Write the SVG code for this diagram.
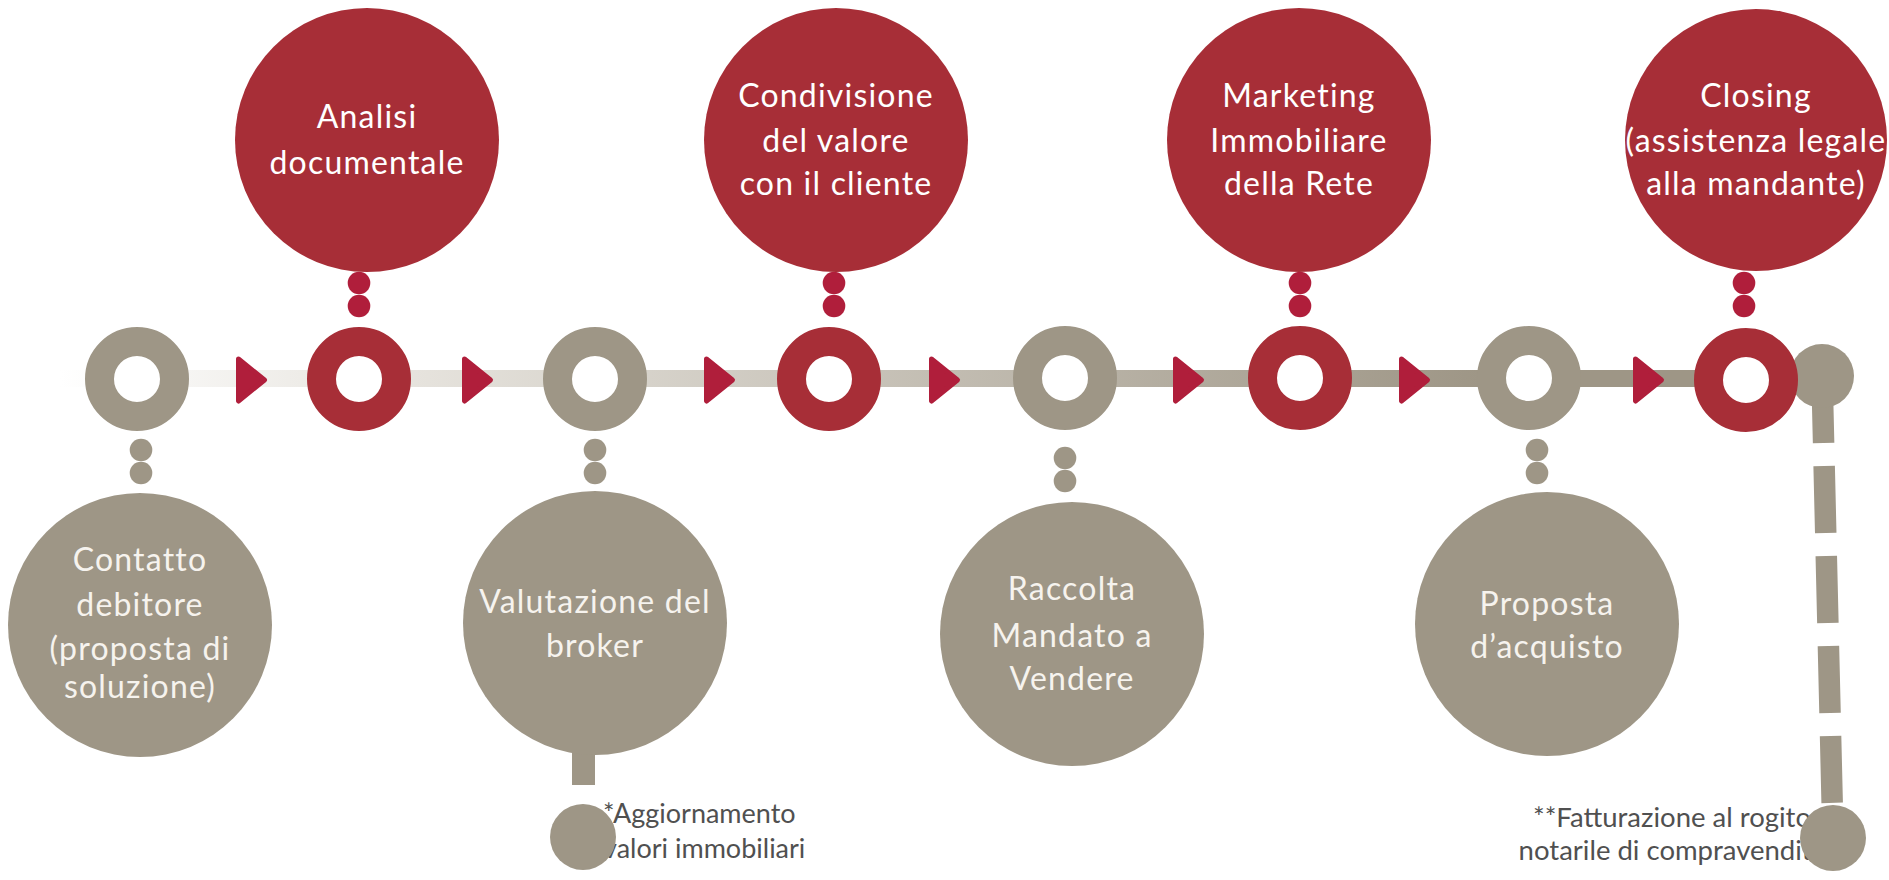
<svg xmlns="http://www.w3.org/2000/svg" width="1889" height="880" viewBox="0 0 1889 880">
  <defs>
    <linearGradient id="lineGrad" gradientUnits="userSpaceOnUse" x1="60" y1="0" x2="1480" y2="0">
      <stop offset="0" stop-color="#ffffff"/>
      <stop offset="0.25" stop-color="#e6e3dd"/>
      <stop offset="1" stop-color="#9e9686"/>
    </linearGradient>
    <style>
      .gray { fill: #9e9686; }
      .red { fill: #a72e37; }
      .dotr { fill: #b01e3b; }
      .arrow { fill: #b01e3b; stroke: #b01e3b; stroke-width: 5; stroke-linejoin: round; }
      .ringg { fill: #ffffff; stroke: #9e9686; stroke-width: 29; }
      .ringr { fill: #ffffff; stroke: #a72e37; stroke-width: 29; }
      .lbl { font-family: Lato, "Liberation Sans", sans-serif; font-size: 32px; letter-spacing: 1.2px; text-anchor: middle; }
      .lw { fill: #ffffff; }
      .lg { fill: #f6f3ee; }
      .note { font-family: Lato, "Liberation Sans", sans-serif; fill: #505050; }
    </style>
  </defs>

  <g id="connectors">
    <rect x="60" y="370" width="1745" height="17" fill="url(#lineGrad)"/>
    <polygon class="arrow" points="238.5,359 264.5,380 238.5,401"/>
    <polygon class="arrow" points="464.5,359 490.5,380 464.5,401"/>
    <polygon class="arrow" points="706.5,359 732.5,380 706.5,401"/>
    <polygon class="arrow" points="931.5,359 957.5,380 931.5,401"/>
    <polygon class="arrow" points="1175.5,359 1201.5,380 1175.5,401"/>
    <polygon class="arrow" points="1401.5,359 1427.5,380 1401.5,401"/>
    <polygon class="arrow" points="1635.5,359 1661.5,380 1635.5,401"/>
    <!-- dot chains -->
    <circle class="gray" cx="141" cy="450" r="11.3"/>
    <circle class="gray" cx="141" cy="473" r="11.3"/>
    <circle class="dotr" cx="359" cy="283" r="11.3"/>
    <circle class="dotr" cx="359" cy="306" r="11.3"/>
    <circle class="gray" cx="595" cy="450" r="11.3"/>
    <circle class="gray" cx="595" cy="473" r="11.3"/>
    <circle class="dotr" cx="834" cy="283" r="11.3"/>
    <circle class="dotr" cx="834" cy="306" r="11.3"/>
    <circle class="gray" cx="1065" cy="458" r="11.3"/>
    <circle class="gray" cx="1065" cy="481" r="11.3"/>
    <circle class="dotr" cx="1300" cy="283" r="11.3"/>
    <circle class="dotr" cx="1300" cy="306" r="11.3"/>
    <circle class="gray" cx="1537" cy="450" r="11.3"/>
    <circle class="gray" cx="1537" cy="473" r="11.3"/>
    <circle class="dotr" cx="1744" cy="283" r="11.3"/>
    <circle class="dotr" cx="1744" cy="306" r="11.3"/>
    <!-- broker stem -->
    <rect class="gray" x="572" y="745" width="23" height="40"/>
    <!-- dashed line -->
    <line x1="1822" y1="376" x2="1833" y2="838" stroke="#9e9686" stroke-width="21.5" stroke-dasharray="67 23"/>
  </g>

  <g id="notes">
    <text class="note" font-size="27" x="603" y="823">*Aggiornamento</text>
    <text class="note" font-size="27" x="603" y="858">valori immobiliari</text>
    <text class="note" font-size="27.5" x="1672" y="827" text-anchor="middle">**Fatturazione al rogito</text>
    <text class="note" font-size="27.5" x="1672" y="860" text-anchor="middle">notarile di compravendita</text>
  </g>

  <g id="end-top">
    <circle class="gray" cx="1822" cy="376" r="32"/>
  </g>
  <g id="note-dot-1">
    <circle class="gray" cx="583" cy="837" r="33"/>
  </g>
  <g id="end-bottom">
    <circle class="gray" cx="1833" cy="838" r="33"/>
  </g>

  <g id="step1-contatto">
    <circle class="ringg" cx="137" cy="379" r="37.5"/>
    <circle class="gray" cx="140" cy="625" r="132"/>
    <text class="lbl lg" x="140" y="571">Contatto</text>
    <text class="lbl lg" x="140" y="616">debitore</text>
    <text class="lbl lg" x="140" y="660" font-size="26" letter-spacing="0">(proposta di</text>
    <text class="lbl lg" x="140" y="698" font-size="26" letter-spacing="0">soluzione)</text>
  </g>

  <g id="step2-analisi">
    <circle class="ringr" cx="359" cy="379" r="37.5"/>
    <circle class="red" cx="367" cy="140" r="132"/>
    <text class="lbl lw" x="367" y="128">Analisi</text>
    <text class="lbl lw" x="367" y="174">documentale</text>
  </g>

  <g id="step3-valutazione">
    <circle class="ringg" cx="595" cy="379" r="37.5"/>
    <circle class="gray" cx="595" cy="623" r="132"/>
    <text class="lbl lg" x="595" y="613">Valutazione del</text>
    <text class="lbl lg" x="595" y="657">broker</text>
  </g>

  <g id="step4-condivisione">
    <circle class="ringr" cx="829" cy="379" r="37.5"/>
    <circle class="red" cx="836" cy="140" r="132"/>
    <text class="lbl lw" x="836" y="107">Condivisione</text>
    <text class="lbl lw" x="836" y="152">del valore</text>
    <text class="lbl lw" x="836" y="195">con il cliente</text>
  </g>

  <g id="step5-raccolta">
    <circle class="ringg" cx="1065" cy="378" r="37.5"/>
    <circle class="gray" cx="1072" cy="634" r="132"/>
    <text class="lbl lg" x="1072" y="600">Raccolta</text>
    <text class="lbl lg" x="1072" y="647">Mandato a</text>
    <text class="lbl lg" x="1072" y="690">Vendere</text>
  </g>

  <g id="step6-marketing">
    <circle class="ringr" cx="1300" cy="378" r="37.5"/>
    <circle class="red" cx="1299" cy="140" r="132"/>
    <text class="lbl lw" x="1299" y="107">Marketing</text>
    <text class="lbl lw" x="1299" y="152">Immobiliare</text>
    <text class="lbl lw" x="1299" y="195">della Rete</text>
  </g>

  <g id="step7-proposta">
    <circle class="ringg" cx="1529" cy="378" r="37.5"/>
    <circle class="gray" cx="1547" cy="624" r="132"/>
    <text class="lbl lg" x="1547" y="615">Proposta</text>
    <text class="lbl lg" x="1547" y="658">d’acquisto</text>
  </g>

  <g id="step8-closing">
    <circle class="ringr" cx="1746" cy="380" r="37.5"/>
    <circle class="red" cx="1756" cy="140" r="131"/>
    <text class="lbl lw" x="1756" y="107">Closing</text>
    <text class="lbl lw" x="1756" y="152" font-size="30" letter-spacing="0">(assistenza legale</text>
    <text class="lbl lw" x="1756" y="195">alla mandante)</text>
  </g>
</svg>
